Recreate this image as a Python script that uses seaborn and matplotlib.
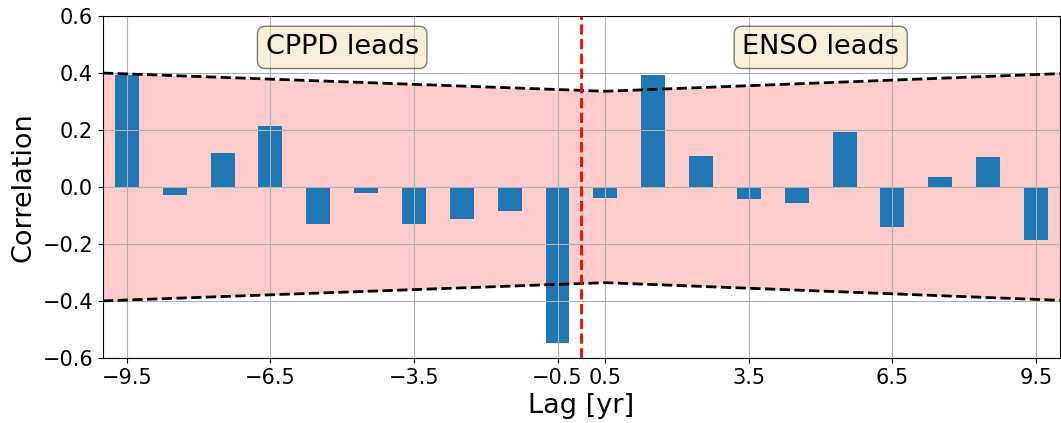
import numpy as np
import pandas as pd
import matplotlib
matplotlib.use("Agg")
import matplotlib.pyplot as plt
import seaborn as sns

# Lagged correlation between CPPD and ENSO
lags = [-9.5, -8.5, -7.5, -6.5, -5.5, -4.5, -3.5, -2.5, -1.5, -0.5,
        0.5, 1.5, 2.5, 3.5, 4.5, 5.5, 6.5, 7.5, 8.5, 9.5]
correlation = [0.393, -0.028, 0.120, 0.213, -0.131, -0.021, -0.131, -0.113, -0.084, -0.547,
               -0.039, 0.392, 0.109, -0.042, -0.056, 0.193, -0.141, 0.035, 0.105, -0.186]

# 95% significance envelope
band_lag = [-10.0, 0.5, 10.0]
band_upper = [0.400, 0.336, 0.398]
band_lower = [-0.400, -0.336, -0.398]

tick_lags = [-9.5, -6.5, -3.5, -0.5, 0.5, 3.5, 6.5, 9.5]
y_ticks = [-0.6, -0.4, -0.2, 0.0, 0.2, 0.4, 0.6]

df = pd.DataFrame({"lag": lags, "corr": correlation})

fig = plt.figure(figsize=(10.61, 4.23), dpi=100)
ax = fig.add_axes([0.097, 0.154, 0.902, 0.808])

ax.fill_between(band_lag, band_lower, band_upper, color="red", alpha=0.2, linewidth=0)
ax.plot(band_lag, band_upper, color="black", linestyle="--", linewidth=2)
ax.plot(band_lag, band_lower, color="black", linestyle="--", linewidth=2)

sns.barplot(data=df, x="lag", y="corr", native_scale=True, width=0.5,
            color="#1f77b4", saturation=1, errorbar=None, linewidth=0, ax=ax)

ax.axvline(0, color="red", linestyle="--", linewidth=2)

ax.set_xlim(-10, 10)
ax.set_ylim(-0.6, 0.6)
ax.set_xticks(tick_lags)
ax.set_xticklabels([f"{t:.1f}".replace("-", "\u2212") for t in tick_lags])
ax.set_yticks(y_ticks)
ax.set_yticklabels([f"{t:.1f}".replace("-", "\u2212") for t in y_ticks])
ax.tick_params(labelsize=15)
ax.grid(True)
ax.set_xlabel("Lag [yr]", fontsize=19.5)
ax.set_ylabel("Correlation", fontsize=19.5)

box = dict(boxstyle="round", facecolor="wheat", alpha=0.5)
ax.text(-5.0, 0.49, "CPPD leads", fontsize=19.5, ha="center", va="center", bbox=box)
ax.text(5.0, 0.49, "ENSO leads", fontsize=19.5, ha="center", va="center", bbox=box)

fig.savefig("out.png", dpi=100)
